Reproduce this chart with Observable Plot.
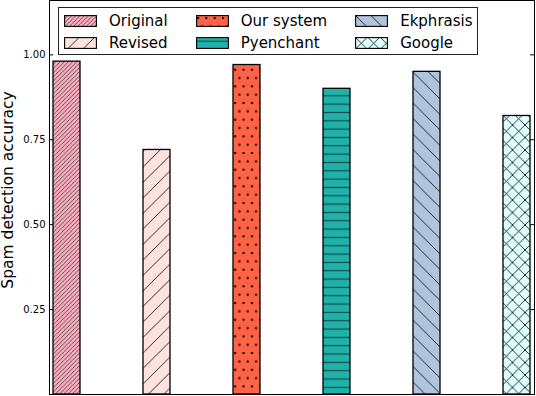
<!DOCTYPE html>
<html>
<head>
<meta charset="utf-8">
<script src="https://cdn.jsdelivr.net/npm/d3@7"></script>
<script src="https://cdn.jsdelivr.net/npm/@observablehq/plot@0.6"></script>
<style>
  html, body { margin: 0; padding: 0; background: #fff; }
  body { font-family: "DejaVu Sans", sans-serif; }
  #wrap { position: relative; width: 536px; height: 396px; }
  #legend {
    position: absolute; left: 58px; top: 7px; width: 420px; height: 48px;
    box-sizing: border-box; border: 1px solid #222; background: #fff;
    display: grid; grid-template-columns: auto auto auto; grid-template-rows: 22px 22px;
    grid-auto-flow: column; column-gap: 28px; padding: 1px 0 0 5px; align-content: center;
    justify-content: start;
  }
  .item { display: flex; align-items: center; font-size: 15px; color: #000; white-space: nowrap; }
  .item svg { margin-right: 12px; flex: none; }
</style>
</head>
<body>
<svg id="defs" width="0" height="0" style="position:absolute"><defs id="patdefs"></defs></svg>
<div id="wrap"><div id="legend"></div></div>
<script>
const categories = ["Original", "Revised", "Our system", "Pyenchant", "Ekphrasis", "Google"];
const accuracy = [0.98, 0.72, 0.97, 0.90, 0.95, 0.82];
const yTicks = [0.25, 0.50, 0.75, 1.00];
const yLabel = "Spam detection accuracy";

// styling: fill colour + hatch for each category
const fills = ["#f7aebe", "#fde2df", "#ff6347", "#20b2aa", "#b0c4de", "#e0ffff"];
const hatches = ["////", "/", ".", "-", "\\", "x"];

const NS = "http://www.w3.org/2000/svg";
const defs = document.getElementById("patdefs");
function el(name, attrs, parent) {
  const e = document.createElementNS(NS, name);
  for (const k in attrs) e.setAttribute(k, attrs[k]);
  if (parent) parent.appendChild(e);
  return e;
}
function diag(s, up) {
  if (up) return `M${-s},${s} L${s},${-s} M0,${s} L${s},0 M0,${2*s} L${2*s},0`;
  return `M${-s},0 L${s},${2*s} M0,0 L${s},${s} M0,${-s} L${2*s},${s}`;
}
hatches.forEach((h, i) => {
  let s = 8.33, sh = null;
  if (h === "////") s = 4.2;
  if (h === "/" || h === "\\") s = 15.5;
  if (h === "x") s = 12.5;
  if (h === ".") sh = 16.67;
  const p = el("pattern", {id: "pat" + i, patternUnits: "userSpaceOnUse", width: s, height: sh || s}, defs);
  el("rect", {x: 0, y: 0, width: s, height: sh || s, fill: fills[i]}, p);
  if (h === "////") el("path", {d: diag(s, true), stroke: "#000", "stroke-width": 0.55, fill: "none"}, p);
  else if (h === "/") el("path", {d: diag(s, true), stroke: "#000", "stroke-width": 0.8, fill: "none"}, p);
  else if (h === "\\") el("path", {d: diag(s, false), stroke: "#000", "stroke-width": 0.8, fill: "none"}, p);
  else if (h === "x") { el("path", {d: diag(s, true) + " " + diag(s, false), stroke: "#000", "stroke-width": 0.8, fill: "none"}, p); }
  else if (h === "-") el("path", {d: `M0,${s/2} L${s},${s/2}`, stroke: "#124a47", "stroke-width": 1.2, fill: "none"}, p);
  else if (h === ".") {
    el("rect", {x: 1, y: 2, width: 2, height: 2, fill: "#000"}, p);
    el("rect", {x: 1 + s/2, y: 2 + sh/2, width: 2, height: 2, fill: "#000"}, p);
  }
});

const data = categories.map((c, i) => ({name: c, value: accuracy[i], idx: i}));

const W = 536, H = 396, mL = 49, mR = 2, mT = 0, mB = 2;
const plotW = W - mL - mR;

const chart = Plot.plot({
  width: W, height: H,
  marginLeft: mL, marginRight: mR, marginTop: mT, marginBottom: mB,
  style: {fontFamily: "DejaVu Sans, sans-serif", background: "transparent", overflow: "visible"},
  x: {type: "band", domain: categories, paddingInner: 0.7, paddingOuter: 0, insetLeft: 1, insetRight: 2, axis: null},
  y: {domain: [0, 1.16], axis: null},
  marks: [
    Plot.barY(data, {x: "name", y: "value", fill: d => `url(#pat${d.idx})`, stroke: "#000", strokeWidth: 1.3}),
    Plot.frame({stroke: "#000", strokeWidth: 1}),
    Plot.tickY(yTicks, {y: d => d, insetRight: plotW - 4, stroke: "#000"}),
    Plot.tickY(yTicks, {y: d => d, insetLeft: plotW - 4, stroke: "#000"}),
    Plot.axisY(yTicks, {tickSize: 0, tickPadding: 4, tickFormat: d3.format(".2f"), fontSize: 10, label: null, color: "#000"}),
    Plot.text([yLabel], {x: null, y: null, frameAnchor: "left", rotate: -90, textAnchor: "middle", fontSize: 15.5, fill: "#000"})
  ]
});
const wrap = document.getElementById("wrap");
wrap.insertBefore(chart, wrap.firstChild);

// position the rotated y label: center at x≈8, y≈190 (matplotlib-style label placement)
const lab = Array.from(chart.querySelectorAll("text")).find(t => t.textContent === yLabel);
if (lab) {
  const g = lab.closest("g[aria-label='text']") || lab.parentNode;
  lab.removeAttribute("transform");
  lab.setAttribute("transform", "translate(13,190) rotate(-90)");
  lab.setAttribute("dy", "0");
  lab.removeAttribute("x"); lab.removeAttribute("y");
  if (g && g !== chart) g.removeAttribute("transform");
}

// legend
const legend = document.getElementById("legend");
categories.forEach((c, i) => {
  const item = document.createElement("div");
  item.className = "item";
  const sw = el("svg", {width: 33, height: 12});
  el("rect", {x: 0.6, y: 0.6, width: 31.8, height: 10.8, fill: `url(#pat${i})`, stroke: "#000", "stroke-width": 1.1}, sw);
  item.appendChild(sw);
  item.appendChild(document.createTextNode(c));
  legend.appendChild(item);
});
</script>
</body>
</html>
